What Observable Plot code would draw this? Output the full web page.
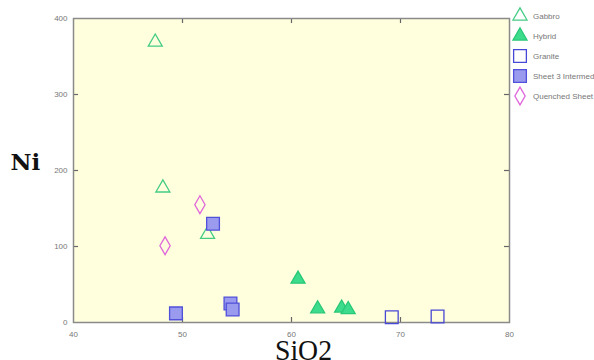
<!DOCTYPE html>
<html>
<head>
<meta charset="utf-8">
<script src="https://cdn.jsdelivr.net/npm/d3@7"></script>
<script src="https://cdn.jsdelivr.net/npm/@observablehq/plot@0.6"></script>
<style>
  html, body { margin: 0; padding: 0; background: white; overflow: hidden; }
  #wrap { position: relative; width: 594px; height: 360px; overflow: hidden; }
  #legend { position: absolute; left: 0; top: 0; }
</style>
</head>
<body>
<div id="wrap"></div>
<script>
// ---- data ----
const seriesNames = ["Gabbro", "Hybrid", "Granite", "Sheet 3 Intermediate", "Quenched Sheet"];

const gabbroSiO2 = [47.5, 48.2, 52.3];
const gabbroNi   = [369, 177, 116];

const hybridSiO2 = [60.6, 62.4, 64.6, 65.2];
const hybridNi   = [57, 18, 19, 17];

const graniteSiO2 = [69.2, 73.4];
const graniteNi   = [7, 8];

const sheet3SiO2 = [49.4, 52.8, 54.4, 54.6];
const sheet3Ni   = [12, 130, 25, 17];

const quenchedSiO2 = [48.4, 51.6];
const quenchedNi   = [101, 155];

const xTicks = [40, 50, 60, 70, 80];
const yTicks = [0, 100, 200, 300, 400];
const xInner = [50, 60, 70];
const yInner = [100, 200, 300];

// ---- styles ----
const styles = {
  "Gabbro":               {symbol: "triangle", fill: "none",    stroke: "#45cc85", r: 5.2},
  "Hybrid":               {symbol: "triangle", fill: "#3ddc8c", stroke: "#28c878", r: 5.2},
  "Granite":              {symbol: "square",   fill: "none",    stroke: "#4848d6", r: 7.2},
  "Sheet 3 Intermediate": {symbol: "square",   fill: "#9a9aee", stroke: "#5050da", r: 7.2},
  "Quenched Sheet":       {symbol: "diamond",  fill: "none",    stroke: "#e066dc", r: 5.4}
};

const toRows = (xs, ys) => xs.map((x, i) => ({SiO2: x, Ni: ys[i]}));
const seriesData = {
  "Gabbro": toRows(gabbroSiO2, gabbroNi),
  "Hybrid": toRows(hybridSiO2, hybridNi),
  "Granite": toRows(graniteSiO2, graniteNi),
  "Sheet 3 Intermediate": toRows(sheet3SiO2, sheet3Ni),
  "Quenched Sheet": toRows(quenchedSiO2, quenchedNi)
};

const W = 594, H = 360, mL = 73, mR = 85, mT = 18, mB = 38;
const fw = W - mL - mR, fh = H - mT - mB;
const axisColor = "#8a8a8a";
const labelColor = "#777777";

const dotMarks = seriesNames.map(name => {
  const s = styles[name];
  return Plot.dot(seriesData[name], {
    x: "SiO2", y: "Ni", symbol: () => s.symbol, r: s.r,
    fill: s.fill, stroke: s.stroke, strokeWidth: 1.3
  });
});

const chart = Plot.plot({
  width: W, height: H,
  marginLeft: mL, marginRight: mR, marginTop: mT, marginBottom: mB,
  x: {domain: [40, 80]},
  y: {domain: [0, 400]},
  symbol: {type: "identity"},
  style: {background: "white", fontFamily: "Liberation Sans, Arial, sans-serif"},
  marks: [
    Plot.frame({fill: "#ffffdd", stroke: "none"}),
    // inward ticks
    Plot.ruleX(xInner, {x: d => d, insetTop: fh - 5, stroke: "#666", strokeWidth: 1.2}),
    Plot.ruleX(xInner, {x: d => d, insetBottom: fh - 5, stroke: "#666", strokeWidth: 1.2}),
    Plot.ruleY(yInner, {y: d => d, insetRight: fw - 5, stroke: "#666", strokeWidth: 1.2}),
    Plot.ruleY(yInner, {y: d => d, insetLeft: fw - 5, stroke: "#666", strokeWidth: 1.2}),
    Plot.frame({stroke: axisColor, strokeWidth: 1.5}),
    Plot.axisX(xTicks, {tickSize: 0, tickPadding: 9, fontSize: 8, fill: labelColor, label: null}),
    Plot.axisY(yTicks, {tickSize: 0, tickPadding: 6, fontSize: 8, fill: labelColor, label: null}),
    ...dotMarks,
    Plot.text(["Ni"], {frameAnchor: "left", textAnchor: "start", dx: -63, dy: -8,
      fontSize: 23, fontWeight: "bold", fontFamily: "DejaVu Serif, serif", fill: "#111"}),
    Plot.text(["SiO2"], {frameAnchor: "bottom", lineAnchor: "top", dx: 12, dy: 16,
      fontSize: 30, fontFamily: "Liberation Serif, serif", fill: "#111"})
  ]
});

const wrap = document.getElementById("wrap");
wrap.appendChild(chart);

// tighten the SiO2 title width to match the reference
d3.select(chart).selectAll("text").filter(function () { return this.textContent === "SiO2"; })
  .attr("textLength", 57).attr("lengthAdjust", "spacingAndGlyphs");

// ---- legend ----
const symbolMap = {triangle: d3.symbolTriangle, square: d3.symbolSquare, diamond: d3.symbolDiamond};
const leg = d3.select(wrap).append("svg")
  .attr("id", "legend").attr("width", W).attr("height", 120);
seriesNames.forEach((name, i) => {
  const s = styles[name];
  const yy = 16 + i * 20;
  leg.append("path")
    .attr("d", d3.symbol(symbolMap[s.symbol], Math.PI * s.r * s.r)())
    .attr("transform", `translate(520,${yy})`)
    .attr("fill", s.fill).attr("stroke", s.stroke).attr("stroke-width", 1.3);
  leg.append("text")
    .attr("x", 533).attr("y", yy).attr("dy", "0.35em")
    .attr("font-family", "Liberation Sans, Arial, sans-serif")
    .attr("font-size", 8).attr("fill", "#777")
    .text(name);
});
</script>
</body>
</html>
